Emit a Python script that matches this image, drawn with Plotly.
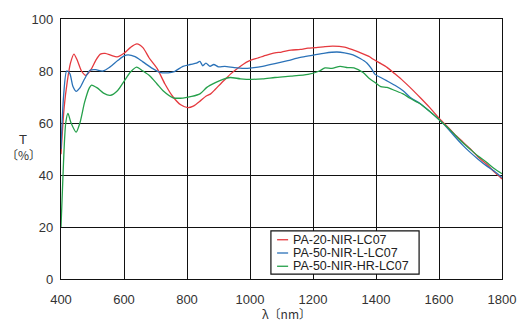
import plotly.graph_objects as go

# Transmittance spectra (wavelength in nm, T in %)
red_wl = [400, 410, 420, 430, 441, 452, 465, 479, 495, 510, 525, 540, 560, 578, 600, 620, 641,
          660, 680, 705, 730, 756, 780, 803, 820, 844, 860, 875, 890, 910, 925, 937, 960, 994,
          1025, 1050, 1079, 1100, 1130, 1160, 1184, 1210, 1238, 1263, 1300, 1327, 1355, 1381,
          1390, 1410, 1435, 1460, 1486, 1508, 1540, 1570, 1603, 1630, 1650, 1675, 1698, 1725,
          1750, 1775, 1800]
red_t = [48, 66, 76, 83, 86.5, 84, 80, 78.3, 80.5, 84, 86.5, 86.8, 86, 85.4, 86.8, 89, 90.4,
         89, 85, 81, 75, 70, 67, 65.9, 66.5, 68.7, 70.3, 71.2, 73, 75.5, 77.2, 78.7, 81, 83.7,
         85, 86, 87, 87.3, 88, 88.3, 88.8, 89, 89.4, 89.6, 89.2, 88.1, 86.8, 85.4, 84.6, 83.2,
         81.4, 78.9, 76.2, 73.7, 69.8, 66, 61.5, 58.2, 55.6, 52.8, 50.2, 46.8, 44.3, 41.2, 38.5]

blue_wl = [400, 408, 418, 428, 438, 448, 460, 475, 492, 510, 533, 555, 580, 600, 613, 635, 660,
           690, 714, 740, 760, 787, 810, 830, 841, 850, 860, 873, 885, 900, 920, 950, 980, 1006,
           1040, 1079, 1120, 1160, 1197, 1238, 1276, 1300, 1327, 1350, 1371, 1385, 1397, 1415,
           1435, 1460, 1486, 1508, 1540, 1570, 1603, 1630, 1650, 1675, 1700, 1725, 1750, 1775,
           1800]
blue_t = [50, 70, 80, 79, 74, 72.2, 73.5, 77, 80.3, 80.5, 80, 81.5, 84, 85.8, 86.2, 85.5, 83.5,
          81, 79.5, 79.3, 79.8, 81.8, 82.5, 83, 83.7, 82, 83, 81.8, 82.5, 81.6, 81.8, 81.3, 81,
          81.2, 81.8, 82.8, 84, 85.2, 86, 86.9, 87.3, 87, 86.2, 84.8, 83.1, 81, 78.7, 77.5,
          76.2, 74.5, 72.4, 69.9, 67.5, 64.5, 61, 57.6, 54.8, 51.5, 48.6, 46, 43.6, 41.5, 39]

green_wl = [400, 408, 415, 422, 432, 448, 460, 475, 490, 497, 515, 535, 556, 580, 600, 620, 640,
            660, 683, 705, 724, 756, 787, 815, 841, 863, 890, 914, 937, 970, 1006, 1040, 1079,
            1130, 1184, 1220, 1238, 1260, 1286, 1310, 1330, 1359, 1380, 1397, 1415, 1435, 1460,
            1486, 1508, 1540, 1570, 1603, 1630, 1650, 1675, 1700, 1725, 1750, 1775, 1800]
green_t = [20, 45, 60, 63.7, 60, 56.5, 60, 68, 73.5, 74.6, 73.5, 71.5, 70.6, 72.5, 76, 79.5, 81.5,
           80, 78, 75, 72.4, 69.7, 69.6, 70.2, 71.2, 73.7, 75.5, 76.8, 77.5, 77, 76.8, 77, 77.5,
           78, 78.7, 80, 81.2, 81, 81.8, 81.3, 81.2, 79.4, 77, 75.6, 74, 73.7, 72.5, 71.2,
           69.5, 67.4, 64.5, 61, 58, 55.5, 52.5, 49.8, 47.2, 45, 42.5, 40.5]

names = ["PA-20-NIR-LC07", "PA-50-NIR-L-LC07", "PA-50-NIR-HR-LC07"]
colors = ["#e53a3f", "#2b72b8", "#25a04a"]
series = [(red_wl, red_t), (blue_wl, blue_t), (green_wl, green_t)]

x_ticks = [400, 600, 800, 1000, 1200, 1400, 1600, 1800]
y_ticks = [0, 20, 40, 60, 80, 100]

font_family = "Arial, Liberation Sans, sans-serif"

fig = go.Figure()
for (wl, t), name, color in zip(series, names, colors):
    fig.add_trace(go.Scatter(
        x=wl, y=t, name=name, mode="lines",
        line=dict(color=color, width=1.3, shape="spline", smoothing=0.7),
        showlegend=False,
    ))

axis_common = dict(
    showgrid=True, gridcolor="#111111", gridwidth=1.2,
    showline=True, linecolor="#111111", linewidth=1.2, mirror=True,
    zeroline=False, ticks="",
    tickfont=dict(family=font_family, size=13, color="#333333"),
)

fig.update_layout(
    width=532, height=334,
    margin=dict(l=61, r=30, t=14, b=55),
    paper_bgcolor="white", plot_bgcolor="white",
    xaxis=dict(range=[400, 1800], tickvals=x_ticks, ticklabelstandoff=8, **axis_common),
    yaxis=dict(range=[0, 100], tickvals=y_ticks, ticklabelstandoff=4, **axis_common),
    showlegend=False,
)

# Axis titles
fig.add_annotation(text="T", x=-0.086, y=0.536, xref="paper", yref="paper",
                   xanchor="center", yanchor="middle", showarrow=False,
                   font=dict(family=font_family, size=13, color="#333333"))
fig.add_annotation(text="〔%〕", x=-0.086, y=0.478, xref="paper", yref="paper",
                   xanchor="center", yanchor="middle", showarrow=False,
                   font=dict(family="Noto Sans CJK JP", size=12, color="#333333"))
fig.add_annotation(text="λ〔nm〕", x=0.512, y=-0.132, xref="paper", yref="paper",
                   xanchor="center", yanchor="middle", showarrow=False,
                   font=dict(family="Noto Sans CJK JP", size=12, color="#333333"))

# Boxed legend in the lower middle of the plot
fig.add_shape(type="rect", xref="paper", yref="paper", x0=0.476, x1=0.812, y0=0.019, y1=0.185,
              line=dict(color="#111111", width=1.2), fillcolor="white", layer="above")
row_y = [0.151, 0.100, 0.049]
for name, color, yy in zip(names, colors, row_y):
    fig.add_shape(type="line", xref="paper", yref="paper", x0=0.490, x1=0.515, y0=yy, y1=yy,
                  line=dict(color=color, width=1.3), layer="above")
    fig.add_annotation(text=name, x=0.522, y=yy, xref="paper", yref="paper",
                       xanchor="left", yanchor="middle", showarrow=False,
                       font=dict(family=font_family, size=12.5, color="#222222"))

fig.write_html("out.html")
